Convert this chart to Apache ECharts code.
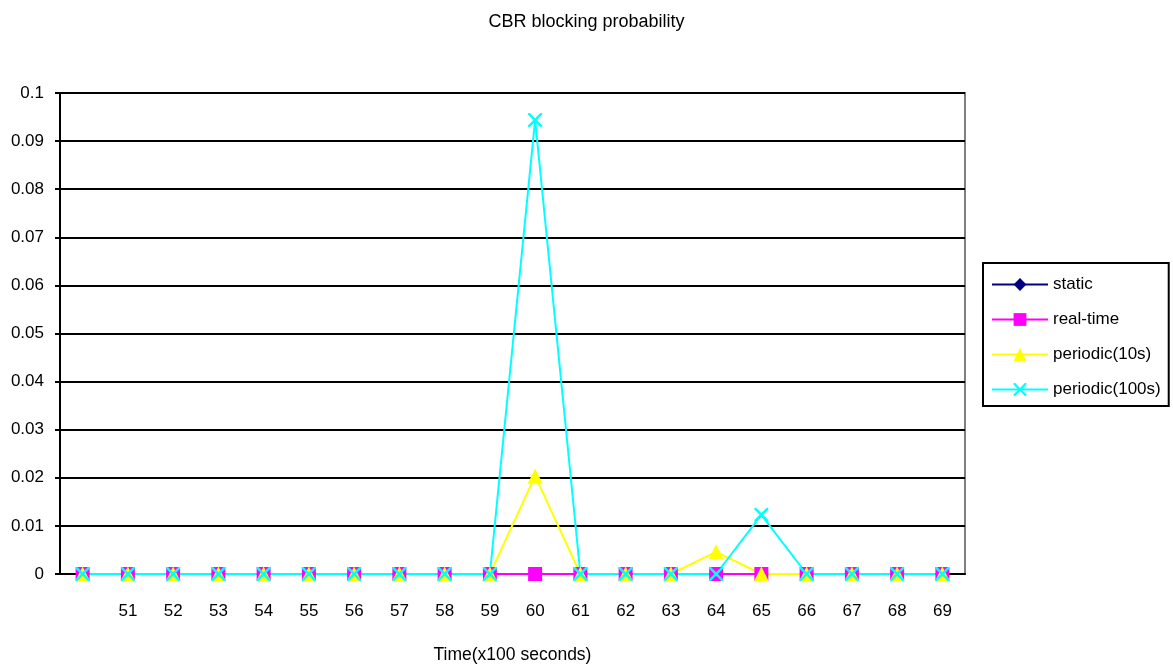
<!DOCTYPE html>
<html>
<head>
<meta charset="utf-8">
<script src="https://cdn.jsdelivr.net/npm/echarts@6/dist/echarts.min.js"></script>
<style>
  html, body { margin: 0; padding: 0; background: #fff; }
  #chart { width: 1173px; height: 669px; }
</style>
</head>
<body>
<div id="chart"></div>
<script>
// time in x100 seconds
const categories = ['50', '51', '52', '53', '54', '55', '56', '57', '58', '59',
  '60', '61', '62', '63', '64', '65', '66', '67', '68', '69'];
const staticVals   = [0, 0, 0, 0, 0, 0, 0, 0, 0, 0, 0, 0, 0, 0, 0, 0, 0, 0, 0, 0];
const realTimeVals = [0, 0, 0, 0, 0, 0, 0, 0, 0, 0, 0, 0, 0, 0, 0, 0, 0, 0, 0, 0];
const periodic10   = [0, 0, 0, 0, 0, 0, 0, 0, 0, 0, 0.0204, 0, 0, 0, 0.0046, 0, 0, 0, 0, 0];
const periodic100  = [0, 0, 0, 0, 0, 0, 0, 0, 0, 0, 0.0944, 0, 0, 0, 0, 0.0123, 0, 0, 0, 0];

const crossPath = 'path://M0,0 L2.5,0 L10,7.5 L17.5,0 L20,0 L20,2.5 L12.5,10 L20,17.5 L20,20 L17.5,20 L10,12.5 L2.5,20 L0,20 L0,17.5 L7.5,10 L0,2.5 Z';
const font = 'Liberation Sans, Arial, sans-serif';

const chart = echarts.init(document.getElementById('chart'));

function line(name, data, color, symbol, size) {
  return {
    name: name,
    type: 'line',
    data: data,
    symbol: symbol,
    symbolSize: size,
    showAllSymbol: true,
    lineStyle: { color: color, width: 2 },
    itemStyle: { color: color, opacity: 1 },
    emphasis: { disabled: true },
    animation: false
  };
}

chart.setOption({
  backgroundColor: '#fff',
  title: {
    text: 'CBR blocking probability',
    left: 'center',
    top: 8,
    textStyle: { fontFamily: font, fontSize: 18, fontWeight: 'normal', color: '#000' }
  },
  grid: {
    left: 60, right: 208, top: 93, bottom: 95,
    outerBoundsMode: 'none',
    show: true, borderColor: '#808080', borderWidth: 2
  },
  legend: {
    orient: 'vertical',
    left: 983,
    top: 263,
    padding: [13, 8, 8, 8],
    itemGap: 18,
    itemWidth: 56,
    itemHeight: 16,
    borderColor: '#000',
    borderWidth: 2,
    textStyle: { fontFamily: font, fontSize: 17, color: '#000' },
    data: ['static', 'real-time', 'periodic(10s)', 'periodic(100s)']
  },
  xAxis: {
    type: 'category',
    data: categories,
    boundaryGap: true,
    name: 'Time(x100 seconds)',
    nameLocation: 'middle',
    nameGap: 72,
    nameTextStyle: { fontFamily: font, fontSize: 17.5, color: '#000' },
    axisLine: { lineStyle: { color: '#000', width: 2 } },
    axisTick: { inside: true, length: 5, lineStyle: { color: '#000', width: 2 } },
    axisLabel: {
      margin: 29,
      fontFamily: font, fontSize: 17, color: '#000',
      interval: function (i) { return i > 0; }
    },
    splitLine: { show: false }
  },
  yAxis: {
    type: 'value',
    min: 0,
    max: 0.1,
    interval: 0.01,
    axisLine: { show: true, lineStyle: { color: '#000', width: 2 } },
    axisTick: { show: true, length: 5, lineStyle: { color: '#000', width: 2 } },
    axisLabel: {
      margin: 16,
      fontFamily: font, fontSize: 17, color: '#000',
      formatter: function (v) { return String(Math.round(v * 100) / 100); }
    },
    splitLine: { lineStyle: { color: '#000', width: 2 } }
  },
  series: [
    line('static', staticVals, '#000080', 'diamond', 14),
    line('real-time', realTimeVals, '#FF00FF', 'rect', 14),
    line('periodic(10s)', periodic10, '#FFFF00', 'triangle', 15),
    line('periodic(100s)', periodic100, '#00FFFF', crossPath, 14)
  ]
});
</script>
</body>
</html>
